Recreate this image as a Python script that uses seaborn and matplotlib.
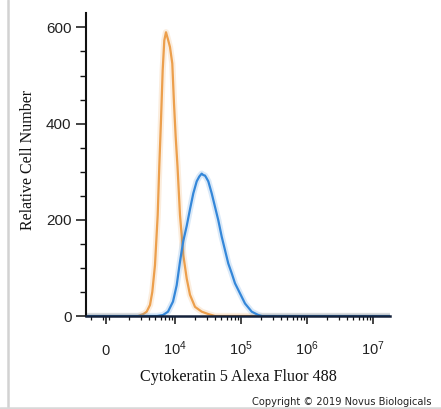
import matplotlib
matplotlib.use("Agg")
import matplotlib.pyplot as plt
import matplotlib.patheffects as pe
from matplotlib.lines import Line2D
from matplotlib.ticker import FixedLocator, NullFormatter
import pandas as pd
import seaborn as sns

# ---- data (fluorescence intensity vs. cell count) ----
orange_x = [-1790, 2720, 3275, 3690, 4140, 4483, 4925, 5412, 5723, 6072, 6442, 6813,
            7230, 7752, 8312, 9006, 9557, 10140, 10800, 11780, 13220, 14880, 16700,
            19890, 25120, 31620, 39950, 17900000]
orange_y = [0, 0, 4, 9, 23, 50, 106, 210, 312, 407, 511, 573,
            590, 575, 559, 525, 442, 372, 311, 210, 127, 78, 44,
            19, 9, 4, 0, 0]

blue_x = [-1790, 5281, 6511, 7752, 9231, 10500, 11780, 13220, 14880, 16700, 18740,
          21100, 23100, 25120, 26560, 28180, 29910, 31620, 35610, 39950, 44830,
          50470, 56620, 63530, 71520, 80250, 95570, 113800, 143800, 181000, 205900,
          17900000]
blue_y = [0, 0, 2, 9, 30, 64, 113, 156, 187, 222, 255,
          280, 290, 296, 293, 292, 286, 280, 255, 227, 199,
          165, 137, 109, 89, 68, 47, 26, 9, 2, 0,
          0]

xtick_values = [0, 1e4, 1e5, 1e6, 1e7]
xtick_labels = ["0", r"$10^{4}$", r"$10^{5}$", r"$10^{6}$", r"$10^{7}$"]
ytick_values = [0, 200, 400, 600]
ytick_labels = ["0", "200", "400", "600"]
x_label = "Cytokeratin 5 Alexa Fluor 488"
y_label = "Relative Cell Number"
copyright_text = "Copyright \u00a9 2019 Novus Biologicals"

orange_color = "#EC9F4C"
blue_color = "#3487D9"

sns.set_style("ticks")
plt.rcParams["font.family"] = ["Liberation Sans", "DejaVu Sans"]
plt.rcParams["mathtext.fontset"] = "custom"
plt.rcParams["mathtext.rm"] = "Liberation Sans"
plt.rcParams["mathtext.it"] = "Liberation Sans"

W, H = 441, 409
fig = plt.figure(figsize=(W / 100, H / 100), dpi=100)
ax = fig.add_axes([86 / W, (H - 316) / H, (390 - 86) / W, (316 - 13) / H])

df_o = pd.DataFrame({"x": orange_x, "count": orange_y})
df_b = pd.DataFrame({"x": blue_x, "count": blue_y})

halo = lambda c: [pe.Stroke(linewidth=4.5, foreground=c, alpha=0.18), pe.Normal()]
sns.lineplot(data=df_o, x="x", y="count", ax=ax, color=orange_color, lw=1.6,
             estimator=None, sort=False, path_effects=halo(orange_color))
sns.lineplot(data=df_b, x="x", y="count", ax=ax, color=blue_color, lw=1.6,
             estimator=None, sort=False, path_effects=halo(blue_color))

ax.set_xscale("symlog", linthresh=1000, linscale=0.045)
ax.set_xlim(-1790, 17900000)
ax.set_ylim(0, 630)

# spines
for s in ["top", "right"]:
    ax.spines[s].set_visible(False)
ax.spines["left"].set_linewidth(1.5)
ax.spines["left"].set_color("#111111")
ax.spines["bottom"].set_linewidth(1.8)
ax.spines["bottom"].set_color("#14213a")

# x ticks
minor_x = [-1500, -1000, 1000]
for dec in [1e3, 1e4, 1e5, 1e6]:
    minor_x += [k * dec for k in range(2, 10)]
ax.xaxis.set_major_locator(FixedLocator(xtick_values))
ax.set_xticklabels(xtick_labels)
ax.xaxis.set_minor_locator(FixedLocator(minor_x))
ax.xaxis.set_minor_formatter(NullFormatter())
ax.tick_params(axis="x", which="major", direction="out", length=6, width=1.1,
               color="#111111", pad=22, labelsize=10.5, labelcolor="#222222")
ax.tick_params(axis="x", which="minor", direction="out", length=3, width=0.9,
               color="#111111")
for t in ax.xaxis.get_major_ticks():
    t.label1.set_va("baseline")

# y ticks
ax.set_yticks(ytick_values)
ax.set_yticklabels(ytick_labels)
ax.yaxis.set_minor_locator(FixedLocator([50, 100, 150, 250, 300, 350, 450, 500, 550]))
ax.tick_params(axis="y", which="major", direction="out", length=7.5, width=1.1,
               color="#111111", pad=3, labelsize=11, labelcolor="#222222")
ax.tick_params(axis="y", which="minor", direction="out", length=4.5, width=1.0,
               color="#111111")

# labels
ax.set_xlabel(x_label, family=["Liberation Serif"], fontsize=11.6, color="#111111")
ax.set_ylabel(y_label, family=["Liberation Serif"], fontsize=11.5, color="#111111")
ax.xaxis.set_label_coords(0.5, (316 - 377) / 303)
ax.xaxis.label.set_va("center")
ax.yaxis.set_label_coords((28 - 86) / 304, (316 - 160) / 303)
ax.yaxis.label.set_va("center")

# copyright
fig.text(252 / W, 1 - 402 / H, copyright_text, family=["DejaVu Sans"], fontsize=7.1,
         color="#222222", ha="left", va="center")

# light grey frame
fig.add_artist(Line2D([8 / W, 8 / W], [0, 1], transform=fig.transFigure,
                      color="#d2d2d2", lw=1.8))
fig.add_artist(Line2D([0, 1], [1.5 / H, 1.5 / H], transform=fig.transFigure,
                      color="#d8d8d8", lw=1.8))

fig.savefig("out.png", dpi=100)
